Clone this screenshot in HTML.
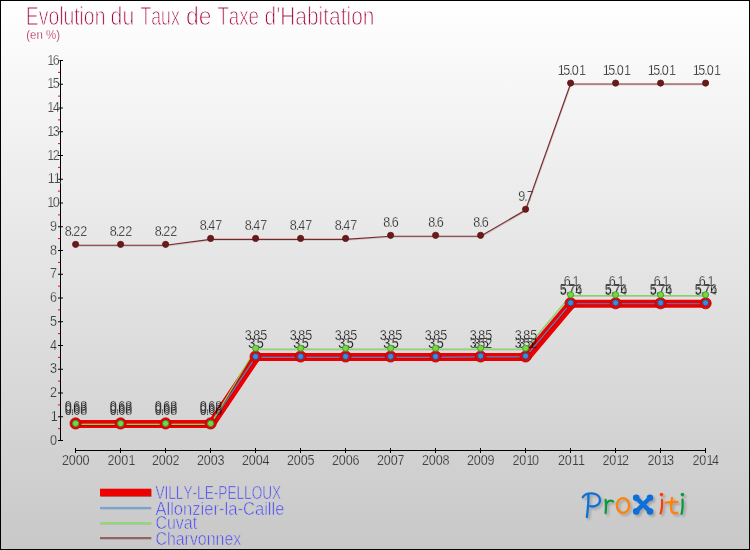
<!DOCTYPE html>
<html lang="fr">
<head>
<meta charset="utf-8">
<title>Evolution du Taux de Taxe d'Habitation</title>
<style>
html,body{margin:0;padding:0;background:#fff;}
body{width:750px;height:550px;overflow:hidden;font-family:"Liberation Sans",sans-serif;}
svg{display:block;}
text{font-family:"Liberation Sans",sans-serif;font-kerning:none;}
.ax{fill:#050505;}
.vl{fill:#050505;mix-blend-mode:darken;}
.lg{fill:#4040fa;}
.tt{fill:#a20038;}
</style>
</head>
<body>
<svg width="750" height="550" viewBox="0 0 750 550">
<defs>
<linearGradient id="bg" x1="0" y1="0" x2="0" y2="1">
<stop offset="0" stop-color="#ffffff"/>
<stop offset="1" stop-color="#c8c8c8"/>
</linearGradient>
<filter id="sh" x="-10%" y="-20%" width="120%" height="150%">
<feGaussianBlur stdDeviation="0.85"/>
</filter>
</defs>
<rect x="0" y="0" width="750" height="550" fill="url(#bg)"/>
<rect x="0.5" y="0.5" width="749" height="549" fill="none" stroke="#000" stroke-width="1"/>
<text class="tt" transform="translate(25.8,24.5) scale(1,1.185)" font-size="21" textLength="79.6" lengthAdjust="spacingAndGlyphs" stroke="#fefefe" stroke-width="0.80">Evolution</text>
<text class="tt" transform="translate(110.6,24.5) scale(1,1.185)" font-size="21" textLength="23.6" lengthAdjust="spacingAndGlyphs" stroke="#fefefe" stroke-width="0.80">du</text>
<text class="tt" transform="translate(140.4,24.5) scale(1,1.185)" font-size="21" textLength="39.4" lengthAdjust="spacingAndGlyphs" stroke="#fefefe" stroke-width="0.80">Taux</text>
<text class="tt" transform="translate(185.9,24.5) scale(1,1.185)" font-size="21" textLength="25.5" lengthAdjust="spacingAndGlyphs" stroke="#fefefe" stroke-width="0.80">de</text>
<text class="tt" transform="translate(217.4,24.5) scale(1,1.185)" font-size="21" textLength="41.6" lengthAdjust="spacingAndGlyphs" stroke="#fefefe" stroke-width="0.80">Taxe</text>
<text class="tt" transform="translate(264.6,24.5) scale(1,1.185)" font-size="21" textLength="109.8" lengthAdjust="spacingAndGlyphs" stroke="#fefefe" stroke-width="0.80">d'Habitation</text>
<text class="tt" transform="translate(26.2,39.2) scale(1,1.100)" font-size="12" textLength="33.8" lengthAdjust="spacingAndGlyphs" stroke="#fbfbfb" stroke-width="0.30">(en %)</text>
<g fill="#000">
<rect x="60" y="60" width="1" height="381"/>
<rect x="58" y="440.00" width="5" height="1"/>
<rect x="58" y="416.25" width="5" height="1"/>
<rect x="58" y="392.50" width="5" height="1"/>
<rect x="58" y="368.75" width="5" height="1"/>
<rect x="58" y="345.00" width="5" height="1"/>
<rect x="58" y="321.25" width="5" height="1"/>
<rect x="58" y="297.50" width="5" height="1"/>
<rect x="58" y="273.75" width="5" height="1"/>
<rect x="58" y="250.00" width="5" height="1"/>
<rect x="58" y="226.25" width="5" height="1"/>
<rect x="58" y="202.50" width="5" height="1"/>
<rect x="58" y="178.75" width="5" height="1"/>
<rect x="58" y="155.00" width="5" height="1"/>
<rect x="58" y="131.25" width="5" height="1"/>
<rect x="58" y="107.50" width="5" height="1"/>
<rect x="58" y="83.75" width="5" height="1"/>
<rect x="58" y="60.00" width="5" height="1"/>
<rect x="75" y="450" width="631" height="1"/>
<rect x="75" y="448" width="1" height="5"/>
<rect x="120" y="448" width="1" height="5"/>
<rect x="165" y="448" width="1" height="5"/>
<rect x="210" y="448" width="1" height="5"/>
<rect x="255" y="448" width="1" height="5"/>
<rect x="300" y="448" width="1" height="5"/>
<rect x="345" y="448" width="1" height="5"/>
<rect x="390" y="448" width="1" height="5"/>
<rect x="435" y="448" width="1" height="5"/>
<rect x="480" y="448" width="1" height="5"/>
<rect x="525" y="448" width="1" height="5"/>
<rect x="570" y="448" width="1" height="5"/>
<rect x="615" y="448" width="1" height="5"/>
<rect x="660" y="448" width="1" height="5"/>
<rect x="705" y="448" width="1" height="5"/>
</g>
<g fill="#ff0000">
<rect x="58" y="428.12" width="2" height="1"/>
<rect x="58" y="404.38" width="2" height="1"/>
<rect x="58" y="380.62" width="2" height="1"/>
<rect x="58" y="356.88" width="2" height="1"/>
<rect x="58" y="333.12" width="2" height="1"/>
<rect x="58" y="309.38" width="2" height="1"/>
<rect x="58" y="285.62" width="2" height="1"/>
<rect x="58" y="261.88" width="2" height="1"/>
<rect x="58" y="238.12" width="2" height="1"/>
<rect x="58" y="214.38" width="2" height="1"/>
<rect x="58" y="190.62" width="2" height="1"/>
<rect x="58" y="166.88" width="2" height="1"/>
<rect x="58" y="143.12" width="2" height="1"/>
<rect x="58" y="119.38" width="2" height="1"/>
<rect x="58" y="95.62" width="2" height="1"/>
<rect x="58" y="71.88" width="2" height="1"/>
</g>
<text class="ax" transform="translate(49.98,444.6) scale(1,1.110)" font-size="12.6" x="-0.08" stroke="#d3d3d3" stroke-width="0.36">0</text>
<text class="ax" transform="translate(50.45,420.9) scale(1,1.110)" font-size="12.6" x="0.30" stroke="#d5d5d5" stroke-width="0.36">1</text>
<text class="ax" transform="translate(49.98,397.1) scale(1,1.110)" font-size="12.6" x="-0.08" stroke="#d8d8d8" stroke-width="0.36">2</text>
<text class="ax" transform="translate(49.98,373.4) scale(1,1.110)" font-size="12.6" x="-0.08" stroke="#dadada" stroke-width="0.36">3</text>
<text class="ax" transform="translate(49.98,349.6) scale(1,1.110)" font-size="12.6" x="-0.08" stroke="#dcdcdc" stroke-width="0.36">4</text>
<text class="ax" transform="translate(49.98,325.9) scale(1,1.110)" font-size="12.6" x="-0.08" stroke="#dfdfdf" stroke-width="0.36">5</text>
<text class="ax" transform="translate(49.98,302.1) scale(1,1.110)" font-size="12.6" x="-0.08" stroke="#e1e1e1" stroke-width="0.36">6</text>
<text class="ax" transform="translate(49.98,278.4) scale(1,1.110)" font-size="12.6" x="-0.08" stroke="#e4e4e4" stroke-width="0.36">7</text>
<text class="ax" transform="translate(49.98,254.6) scale(1,1.110)" font-size="12.6" x="-0.08" stroke="#e6e6e6" stroke-width="0.36">8</text>
<text class="ax" transform="translate(49.98,230.8) scale(1,1.110)" font-size="12.6" x="-0.08" stroke="#e8e8e8" stroke-width="0.36">9</text>
<text class="ax" transform="translate(47.02,207.1) scale(1,1.110)" font-size="12.6" x="0.30 5.82" stroke="#ebebeb" stroke-width="0.36">10</text>
<text class="ax" transform="translate(47.50,183.3) scale(1,1.110)" font-size="12.6" x="0.30 6.20" stroke="#ededed" stroke-width="0.36">11</text>
<text class="ax" transform="translate(47.02,159.6) scale(1,1.110)" font-size="12.6" x="0.30 5.82" stroke="#efefef" stroke-width="0.36">12</text>
<text class="ax" transform="translate(47.02,135.8) scale(1,1.110)" font-size="12.6" x="0.30 5.82" stroke="#f2f2f2" stroke-width="0.36">13</text>
<text class="ax" transform="translate(47.02,112.1) scale(1,1.110)" font-size="12.6" x="0.30 5.82" stroke="#f4f4f4" stroke-width="0.36">14</text>
<text class="ax" transform="translate(47.02,88.3) scale(1,1.110)" font-size="12.6" x="0.30 5.82" stroke="#f7f7f7" stroke-width="0.36">15</text>
<text class="ax" transform="translate(47.02,64.6) scale(1,1.110)" font-size="12.6" x="0.30 5.82" stroke="#f9f9f9" stroke-width="0.36">16</text>
<text class="ax" transform="translate(62.10,464.6) scale(1,1.110)" font-size="12.6" x="-0.08 6.77 13.62 20.47" stroke="#d1d1d1" stroke-width="0.36">2000</text>
<text class="ax" transform="translate(107.58,464.6) scale(1,1.110)" font-size="12.6" x="-0.08 6.77 13.62 20.85" stroke="#d1d1d1" stroke-width="0.36">2001</text>
<text class="ax" transform="translate(152.10,464.6) scale(1,1.110)" font-size="12.6" x="-0.08 6.77 13.62 20.47" stroke="#d1d1d1" stroke-width="0.36">2002</text>
<text class="ax" transform="translate(197.10,464.6) scale(1,1.110)" font-size="12.6" x="-0.08 6.77 13.62 20.47" stroke="#d1d1d1" stroke-width="0.36">2003</text>
<text class="ax" transform="translate(242.10,464.6) scale(1,1.110)" font-size="12.6" x="-0.08 6.77 13.62 20.47" stroke="#d1d1d1" stroke-width="0.36">2004</text>
<text class="ax" transform="translate(287.10,464.6) scale(1,1.110)" font-size="12.6" x="-0.08 6.77 13.62 20.47" stroke="#d1d1d1" stroke-width="0.36">2005</text>
<text class="ax" transform="translate(332.10,464.6) scale(1,1.110)" font-size="12.6" x="-0.08 6.77 13.62 20.47" stroke="#d1d1d1" stroke-width="0.36">2006</text>
<text class="ax" transform="translate(377.10,464.6) scale(1,1.110)" font-size="12.6" x="-0.08 6.77 13.62 20.47" stroke="#d1d1d1" stroke-width="0.36">2007</text>
<text class="ax" transform="translate(422.10,464.6) scale(1,1.110)" font-size="12.6" x="-0.08 6.77 13.62 20.47" stroke="#d1d1d1" stroke-width="0.36">2008</text>
<text class="ax" transform="translate(467.10,464.6) scale(1,1.110)" font-size="12.6" x="-0.08 6.77 13.62 20.47" stroke="#d1d1d1" stroke-width="0.36">2009</text>
<text class="ax" transform="translate(512.57,464.6) scale(1,1.110)" font-size="12.6" x="-0.08 6.77 14.00 19.52" stroke="#d1d1d1" stroke-width="0.36">2010</text>
<text class="ax" transform="translate(558.05,464.6) scale(1,1.110)" font-size="12.6" x="-0.08 6.77 14.00 19.90" stroke="#d1d1d1" stroke-width="0.36">2011</text>
<text class="ax" transform="translate(602.57,464.6) scale(1,1.110)" font-size="12.6" x="-0.08 6.77 14.00 19.52" stroke="#d1d1d1" stroke-width="0.36">2012</text>
<text class="ax" transform="translate(647.57,464.6) scale(1,1.110)" font-size="12.6" x="-0.08 6.77 14.00 19.52" stroke="#d1d1d1" stroke-width="0.36">2013</text>
<text class="ax" transform="translate(692.57,464.6) scale(1,1.110)" font-size="12.6" x="-0.08 6.77 14.00 19.52" stroke="#d1d1d1" stroke-width="0.36">2014</text>
<g transform="translate(1.0,0)" fill="none" stroke="#ee0000">
<polyline points="75.5,424.00 120.5,424.00 165.5,424.00 210.5,424.00 255.5,357.02 300.5,357.02 345.5,357.02 390.5,357.02 435.5,357.02 480.5,357.02 525.5,357.02 570.5,303.82 615.5,303.82 660.5,303.82 705.5,303.82" stroke-width="8.00" stroke-linejoin="round" stroke-linecap="round"/>
<line x1="210.5" y1="424.00" x2="255.5" y2="357.02" stroke-width="8.4"/>
<line x1="525.5" y1="357.02" x2="570.5" y2="303.82" stroke-width="9.1"/>
</g>
<polyline points="75.5,424.35 120.5,424.35 165.5,424.35 210.5,424.35 255.5,357.38 300.5,357.38 345.5,357.38 390.5,357.38 435.5,357.38 480.5,356.90 525.5,356.90 570.5,303.70 615.5,303.70 660.5,303.70 705.5,303.70" fill="none" stroke="#000" stroke-opacity="0.13" stroke-width="1.15" stroke-linejoin="round" transform="translate(0.6,0.9)"/>
<polyline points="75.5,424.35 120.5,424.35 165.5,424.35 210.5,424.35 255.5,357.38 300.5,357.38 345.5,357.38 390.5,357.38 435.5,357.38 480.5,356.90 525.5,356.90 570.5,303.70 615.5,303.70 660.5,303.70 705.5,303.70" fill="none" stroke="#4f86c6" stroke-width="1.15" stroke-linejoin="round" stroke-linecap="round"/>
<polyline points="75.5,424.35 120.5,424.35 165.5,424.35 210.5,424.35 255.5,349.06 300.5,349.06 345.5,349.06 390.5,349.06 435.5,349.06 480.5,349.06 525.5,349.06 570.5,295.62 615.5,295.62 660.5,295.62 705.5,295.62" fill="none" stroke="#000" stroke-opacity="0.13" stroke-width="1.15" stroke-linejoin="round" transform="translate(0.6,0.9)"/>
<polyline points="75.5,424.35 120.5,424.35 165.5,424.35 210.5,424.35 255.5,349.06 300.5,349.06 345.5,349.06 390.5,349.06 435.5,349.06 480.5,349.06 525.5,349.06 570.5,295.62 615.5,295.62 660.5,295.62 705.5,295.62" fill="none" stroke="#7fd858" stroke-width="1.15" stroke-linejoin="round" stroke-linecap="round"/>
<polyline points="75.5,245.27 120.5,245.27 165.5,245.27 210.5,239.34 255.5,239.34 300.5,239.34 345.5,239.34 390.5,236.25 435.5,236.25 480.5,236.25 525.5,210.13 570.5,84.01 615.5,84.01 660.5,84.01 705.5,84.01" fill="none" stroke="#000" stroke-opacity="0.13" stroke-width="1.20" stroke-linejoin="round" transform="translate(0.6,0.9)"/>
<polyline points="75.5,245.27 120.5,245.27 165.5,245.27 210.5,239.34 255.5,239.34 300.5,239.34 345.5,239.34 390.5,236.25 435.5,236.25 480.5,236.25 525.5,210.13 570.5,84.01 615.5,84.01 660.5,84.01 705.5,84.01" fill="none" stroke="#7c2828" stroke-width="1.20" stroke-linejoin="round" stroke-linecap="round"/>
<g fill="#ee0000" stroke="#aa0c0c" stroke-width="0.80">
<circle cx="75.6" cy="423.45" r="5.60"/>
<circle cx="120.6" cy="423.45" r="5.60"/>
<circle cx="165.6" cy="423.45" r="5.60"/>
<circle cx="210.6" cy="423.45" r="5.60"/>
<circle cx="255.6" cy="356.48" r="5.60"/>
<circle cx="300.6" cy="356.48" r="5.60"/>
<circle cx="345.6" cy="356.48" r="5.60"/>
<circle cx="390.6" cy="356.48" r="5.60"/>
<circle cx="435.6" cy="356.48" r="5.60"/>
<circle cx="480.6" cy="356.48" r="5.60"/>
<circle cx="525.6" cy="356.48" r="5.60"/>
<circle cx="570.6" cy="303.27" r="5.60"/>
<circle cx="615.6" cy="303.27" r="5.60"/>
<circle cx="660.6" cy="303.27" r="5.60"/>
<circle cx="705.6" cy="303.27" r="5.60"/>
</g>
<text class="vl" transform="translate(64.88,415.0) scale(1,1.110)" font-size="12.6" x="-0.08 5.95 8.47 15.32" stroke="#d6d6d6" stroke-width="0.30">0.68</text>
<text class="vl" transform="translate(109.88,415.0) scale(1,1.110)" font-size="12.6" x="-0.08 5.95 8.47 15.32" stroke="#d6d6d6" stroke-width="0.30">0.68</text>
<text class="vl" transform="translate(154.88,415.0) scale(1,1.110)" font-size="12.6" x="-0.08 5.95 8.47 15.32" stroke="#d6d6d6" stroke-width="0.30">0.68</text>
<text class="vl" transform="translate(199.88,415.0) scale(1,1.110)" font-size="12.6" x="-0.08 5.95 8.47 15.32" stroke="#d6d6d6" stroke-width="0.30">0.68</text>
<text class="vl" transform="translate(248.30,348.0) scale(1,1.110)" font-size="12.6" x="-0.08 5.95 8.47" stroke="#dddddd" stroke-width="0.30">3.5</text>
<text class="vl" transform="translate(293.30,348.0) scale(1,1.110)" font-size="12.6" x="-0.08 5.95 8.47" stroke="#dddddd" stroke-width="0.30">3.5</text>
<text class="vl" transform="translate(338.30,348.0) scale(1,1.110)" font-size="12.6" x="-0.08 5.95 8.47" stroke="#dddddd" stroke-width="0.30">3.5</text>
<text class="vl" transform="translate(383.30,348.0) scale(1,1.110)" font-size="12.6" x="-0.08 5.95 8.47" stroke="#dddddd" stroke-width="0.30">3.5</text>
<text class="vl" transform="translate(428.30,348.0) scale(1,1.110)" font-size="12.6" x="-0.08 5.95 8.47" stroke="#dddddd" stroke-width="0.30">3.5</text>
<text class="vl" transform="translate(473.30,348.0) scale(1,1.110)" font-size="12.6" x="-0.08 5.95 8.47" stroke="#dddddd" stroke-width="0.30">3.5</text>
<text class="vl" transform="translate(518.30,348.0) scale(1,1.110)" font-size="12.6" x="-0.08 5.95 8.47" stroke="#dddddd" stroke-width="0.30">3.5</text>
<text class="vl" transform="translate(559.88,294.8) scale(1,1.110)" font-size="12.6" x="-0.08 5.95 8.47 15.32" stroke="#e2e2e2" stroke-width="0.30">5.74</text>
<text class="vl" transform="translate(604.88,294.8) scale(1,1.110)" font-size="12.6" x="-0.08 5.95 8.47 15.32" stroke="#e2e2e2" stroke-width="0.30">5.74</text>
<text class="vl" transform="translate(649.88,294.8) scale(1,1.110)" font-size="12.6" x="-0.08 5.95 8.47 15.32" stroke="#e2e2e2" stroke-width="0.30">5.74</text>
<text class="vl" transform="translate(694.88,294.8) scale(1,1.110)" font-size="12.6" x="-0.08 5.95 8.47 15.32" stroke="#e2e2e2" stroke-width="0.30">5.74</text>
<g fill="#3c8cd7" stroke="#1f4f8f" stroke-width="0.90">
<circle cx="75.6" cy="423.45" r="3.05"/>
<circle cx="120.6" cy="423.45" r="3.05"/>
<circle cx="165.6" cy="423.45" r="3.05"/>
<circle cx="210.6" cy="423.45" r="3.05"/>
<circle cx="255.6" cy="356.48" r="3.05"/>
<circle cx="300.6" cy="356.48" r="3.05"/>
<circle cx="345.6" cy="356.48" r="3.05"/>
<circle cx="390.6" cy="356.48" r="3.05"/>
<circle cx="435.6" cy="356.48" r="3.05"/>
<circle cx="480.6" cy="356.00" r="3.05"/>
<circle cx="525.6" cy="356.00" r="3.05"/>
<circle cx="570.6" cy="302.80" r="3.05"/>
<circle cx="615.6" cy="302.80" r="3.05"/>
<circle cx="660.6" cy="302.80" r="3.05"/>
<circle cx="705.6" cy="302.80" r="3.05"/>
</g>
<text class="vl" transform="translate(64.88,413.0) scale(1,1.110)" font-size="12.6" x="-0.08 5.95 8.47 15.32" stroke="#d6d6d6" stroke-width="0.30">0.68</text>
<text class="vl" transform="translate(109.88,413.0) scale(1,1.110)" font-size="12.6" x="-0.08 5.95 8.47 15.32" stroke="#d6d6d6" stroke-width="0.30">0.68</text>
<text class="vl" transform="translate(154.88,413.0) scale(1,1.110)" font-size="12.6" x="-0.08 5.95 8.47 15.32" stroke="#d6d6d6" stroke-width="0.30">0.68</text>
<text class="vl" transform="translate(199.88,413.0) scale(1,1.110)" font-size="12.6" x="-0.08 5.95 8.47 15.32" stroke="#d6d6d6" stroke-width="0.30">0.68</text>
<text class="vl" transform="translate(248.30,348.0) scale(1,1.110)" font-size="12.6" x="-0.08 5.95 8.47" stroke="#dddddd" stroke-width="0.30">3.5</text>
<text class="vl" transform="translate(293.30,348.0) scale(1,1.110)" font-size="12.6" x="-0.08 5.95 8.47" stroke="#dddddd" stroke-width="0.30">3.5</text>
<text class="vl" transform="translate(338.30,348.0) scale(1,1.110)" font-size="12.6" x="-0.08 5.95 8.47" stroke="#dddddd" stroke-width="0.30">3.5</text>
<text class="vl" transform="translate(383.30,348.0) scale(1,1.110)" font-size="12.6" x="-0.08 5.95 8.47" stroke="#dddddd" stroke-width="0.30">3.5</text>
<text class="vl" transform="translate(428.30,348.0) scale(1,1.110)" font-size="12.6" x="-0.08 5.95 8.47" stroke="#dddddd" stroke-width="0.30">3.5</text>
<text class="vl" transform="translate(469.88,347.5) scale(1,1.110)" font-size="12.6" x="-0.08 5.95 8.47 15.32" stroke="#dddddd" stroke-width="0.30">3.52</text>
<text class="vl" transform="translate(514.88,347.5) scale(1,1.110)" font-size="12.6" x="-0.08 5.95 8.47 15.32" stroke="#dddddd" stroke-width="0.30">3.52</text>
<text class="vl" transform="translate(559.88,294.3) scale(1,1.110)" font-size="12.6" x="-0.08 5.95 8.47 15.32" stroke="#e2e2e2" stroke-width="0.30">5.76</text>
<text class="vl" transform="translate(604.88,294.3) scale(1,1.110)" font-size="12.6" x="-0.08 5.95 8.47 15.32" stroke="#e2e2e2" stroke-width="0.30">5.76</text>
<text class="vl" transform="translate(649.88,294.3) scale(1,1.110)" font-size="12.6" x="-0.08 5.95 8.47 15.32" stroke="#e2e2e2" stroke-width="0.30">5.76</text>
<text class="vl" transform="translate(694.88,294.3) scale(1,1.110)" font-size="12.6" x="-0.08 5.95 8.47 15.32" stroke="#e2e2e2" stroke-width="0.30">5.76</text>
<g fill="#73d746" stroke="#3f9a20" stroke-width="0.90">
<circle cx="75.6" cy="423.45" r="3.05"/>
<circle cx="120.6" cy="423.45" r="3.05"/>
<circle cx="165.6" cy="423.45" r="3.05"/>
<circle cx="210.6" cy="423.45" r="3.05"/>
<circle cx="255.6" cy="348.16" r="3.05"/>
<circle cx="300.6" cy="348.16" r="3.05"/>
<circle cx="345.6" cy="348.16" r="3.05"/>
<circle cx="390.6" cy="348.16" r="3.05"/>
<circle cx="435.6" cy="348.16" r="3.05"/>
<circle cx="480.6" cy="348.16" r="3.05"/>
<circle cx="525.6" cy="348.16" r="3.05"/>
<circle cx="570.6" cy="294.73" r="3.05"/>
<circle cx="615.6" cy="294.73" r="3.05"/>
<circle cx="660.6" cy="294.73" r="3.05"/>
<circle cx="705.6" cy="294.73" r="3.05"/>
</g>
<text class="vl" transform="translate(64.88,411.0) scale(1,1.110)" font-size="12.6" x="-0.08 5.95 8.47 15.32" stroke="#d6d6d6" stroke-width="0.30">0.68</text>
<text class="vl" transform="translate(109.88,411.0) scale(1,1.110)" font-size="12.6" x="-0.08 5.95 8.47 15.32" stroke="#d6d6d6" stroke-width="0.30">0.68</text>
<text class="vl" transform="translate(154.88,411.0) scale(1,1.110)" font-size="12.6" x="-0.08 5.95 8.47 15.32" stroke="#d6d6d6" stroke-width="0.30">0.68</text>
<text class="vl" transform="translate(199.88,411.0) scale(1,1.110)" font-size="12.6" x="-0.08 5.95 8.47 15.32" stroke="#d6d6d6" stroke-width="0.30">0.68</text>
<text class="vl" transform="translate(244.88,339.7) scale(1,1.110)" font-size="12.6" x="-0.08 5.95 8.47 15.32" stroke="#dddddd" stroke-width="0.30">3.85</text>
<text class="vl" transform="translate(289.88,339.7) scale(1,1.110)" font-size="12.6" x="-0.08 5.95 8.47 15.32" stroke="#dddddd" stroke-width="0.30">3.85</text>
<text class="vl" transform="translate(334.88,339.7) scale(1,1.110)" font-size="12.6" x="-0.08 5.95 8.47 15.32" stroke="#dddddd" stroke-width="0.30">3.85</text>
<text class="vl" transform="translate(379.88,339.7) scale(1,1.110)" font-size="12.6" x="-0.08 5.95 8.47 15.32" stroke="#dddddd" stroke-width="0.30">3.85</text>
<text class="vl" transform="translate(424.88,339.7) scale(1,1.110)" font-size="12.6" x="-0.08 5.95 8.47 15.32" stroke="#dddddd" stroke-width="0.30">3.85</text>
<text class="vl" transform="translate(469.88,339.7) scale(1,1.110)" font-size="12.6" x="-0.08 5.95 8.47 15.32" stroke="#dddddd" stroke-width="0.30">3.85</text>
<text class="vl" transform="translate(514.88,339.7) scale(1,1.110)" font-size="12.6" x="-0.08 5.95 8.47 15.32" stroke="#dddddd" stroke-width="0.30">3.85</text>
<text class="vl" transform="translate(563.77,286.2) scale(1,1.110)" font-size="12.6" x="-0.08 5.95 8.85" stroke="#e3e3e3" stroke-width="0.30">6.1</text>
<text class="vl" transform="translate(608.77,286.2) scale(1,1.110)" font-size="12.6" x="-0.08 5.95 8.85" stroke="#e3e3e3" stroke-width="0.30">6.1</text>
<text class="vl" transform="translate(653.77,286.2) scale(1,1.110)" font-size="12.6" x="-0.08 5.95 8.85" stroke="#e3e3e3" stroke-width="0.30">6.1</text>
<text class="vl" transform="translate(698.77,286.2) scale(1,1.110)" font-size="12.6" x="-0.08 5.95 8.85" stroke="#e3e3e3" stroke-width="0.30">6.1</text>
<g fill="#6b1a1a" stroke="#5a1414" stroke-width="0.80">
<circle cx="75.6" cy="244.37" r="3.10"/>
<circle cx="120.6" cy="244.37" r="3.10"/>
<circle cx="165.6" cy="244.37" r="3.10"/>
<circle cx="210.6" cy="238.44" r="3.10"/>
<circle cx="255.6" cy="238.44" r="3.10"/>
<circle cx="300.6" cy="238.44" r="3.10"/>
<circle cx="345.6" cy="238.44" r="3.10"/>
<circle cx="390.6" cy="235.35" r="3.10"/>
<circle cx="435.6" cy="235.35" r="3.10"/>
<circle cx="480.6" cy="235.35" r="3.10"/>
<circle cx="525.6" cy="209.23" r="3.10"/>
<circle cx="570.6" cy="83.11" r="3.10"/>
<circle cx="615.6" cy="83.11" r="3.10"/>
<circle cx="660.6" cy="83.11" r="3.10"/>
<circle cx="705.6" cy="83.11" r="3.10"/>
</g>
<text class="vl" transform="translate(64.88,235.9) scale(1,1.110)" font-size="12.6" x="-0.08 5.95 8.47 15.32" stroke="#e8e8e8" stroke-width="0.30">8.22</text>
<text class="vl" transform="translate(109.88,235.9) scale(1,1.110)" font-size="12.6" x="-0.08 5.95 8.47 15.32" stroke="#e8e8e8" stroke-width="0.30">8.22</text>
<text class="vl" transform="translate(154.88,235.9) scale(1,1.110)" font-size="12.6" x="-0.08 5.95 8.47 15.32" stroke="#e8e8e8" stroke-width="0.30">8.22</text>
<text class="vl" transform="translate(199.88,229.9) scale(1,1.110)" font-size="12.6" x="-0.08 5.95 8.47 15.32" stroke="#e8e8e8" stroke-width="0.30">8.47</text>
<text class="vl" transform="translate(244.88,229.9) scale(1,1.110)" font-size="12.6" x="-0.08 5.95 8.47 15.32" stroke="#e8e8e8" stroke-width="0.30">8.47</text>
<text class="vl" transform="translate(289.88,229.9) scale(1,1.110)" font-size="12.6" x="-0.08 5.95 8.47 15.32" stroke="#e8e8e8" stroke-width="0.30">8.47</text>
<text class="vl" transform="translate(334.88,229.9) scale(1,1.110)" font-size="12.6" x="-0.08 5.95 8.47 15.32" stroke="#e8e8e8" stroke-width="0.30">8.47</text>
<text class="vl" transform="translate(383.30,226.8) scale(1,1.110)" font-size="12.6" x="-0.08 5.95 8.47" stroke="#e9e9e9" stroke-width="0.30">8.6</text>
<text class="vl" transform="translate(428.30,226.8) scale(1,1.110)" font-size="12.6" x="-0.08 5.95 8.47" stroke="#e9e9e9" stroke-width="0.30">8.6</text>
<text class="vl" transform="translate(473.30,226.8) scale(1,1.110)" font-size="12.6" x="-0.08 5.95 8.47" stroke="#e9e9e9" stroke-width="0.30">8.6</text>
<text class="vl" transform="translate(518.30,200.7) scale(1,1.110)" font-size="12.6" x="-0.08 5.95 8.47" stroke="#ebebeb" stroke-width="0.30">9.7</text>
<text class="vl" transform="translate(557.40,74.6) scale(1,1.110)" font-size="12.6" x="0.30 5.82 11.85 14.37 21.60" stroke="#f8f8f8" stroke-width="0.30">15.01</text>
<text class="vl" transform="translate(602.40,74.6) scale(1,1.110)" font-size="12.6" x="0.30 5.82 11.85 14.37 21.60" stroke="#f8f8f8" stroke-width="0.30">15.01</text>
<text class="vl" transform="translate(647.40,74.6) scale(1,1.110)" font-size="12.6" x="0.30 5.82 11.85 14.37 21.60" stroke="#f8f8f8" stroke-width="0.30">15.01</text>
<text class="vl" transform="translate(692.40,74.6) scale(1,1.110)" font-size="12.6" x="0.30 5.82 11.85 14.37 21.60" stroke="#f8f8f8" stroke-width="0.30">15.01</text>
<rect x="100.6" y="489.4" width="51" height="7.6" fill="#000" fill-opacity="0.3"/>
<rect x="100" y="488.7" width="51.2" height="7.6" fill="#ee0000"/>
<text class="lg" transform="translate(155.4,498.5) scale(1,1.190)" font-size="16" textLength="125.8" lengthAdjust="spacingAndGlyphs" stroke="#cecece" stroke-width="0.55">VILLY-LE-PELLOUX</text>
<rect x="100.5" y="507.7" width="51" height="2" fill="#000" fill-opacity="0.12"/>
<rect x="100" y="506.9" width="51.2" height="2.1" fill="#76a6cf"/>
<text class="lg" transform="translate(155.4,515.0) scale(1,1.190)" font-size="16" textLength="129.0" lengthAdjust="spacingAndGlyphs" stroke="#cccccc" stroke-width="0.55">Allonzier-la-Caille</text>
<rect x="100.5" y="522.7" width="51" height="2" fill="#000" fill-opacity="0.12"/>
<rect x="100" y="522.0" width="51.2" height="2.1" fill="#97d678"/>
<text class="lg" transform="translate(155.4,529.4) scale(1,1.190)" font-size="16" textLength="41.8" lengthAdjust="spacingAndGlyphs" stroke="#cbcbcb" stroke-width="0.55">Cuvat</text>
<rect x="100.5" y="537.7" width="51" height="2" fill="#000" fill-opacity="0.12"/>
<rect x="100" y="537.0" width="51.2" height="2.1" fill="#946262"/>
<text class="lg" transform="translate(155.4,545.3) scale(1,1.190)" font-size="16" textLength="85.8" lengthAdjust="spacingAndGlyphs" stroke="#c9c9c9" stroke-width="0.55">Charvonnex</text>
<g fill="none" stroke-width="2.3" stroke-linecap="round" stroke-linejoin="round" opacity="0.2" transform="translate(2.0,2.0)" filter="url(#sh)">
<path d="M582.8 497.2 C584.5 494.6 588.5 493.2 592 493.4 C597 493.7 600.2 496.6 600 500.4 C599.8 504.6 595.5 507.4 590.2 506.2" stroke="#000"/>
<path d="M588.4 494.8 C588.6 502 587.8 510 586.9 517" stroke="#000"/>
<path d="M605.6 500 C606.2 504 606 509 605.6 513" stroke="#000"/>
<path d="M606 504.6 C607.2 501.2 610.4 499.6 613 501.4" stroke="#000"/>
<ellipse cx="623" cy="505.5" rx="6.1" ry="7.3" stroke="#000"/>
<path d="M662 499.8 C662.2 504 662.2 509 660.6 513.4" stroke="#000"/>
<path d="M672 497.8 C671.6 502 670.6 507 671.4 510.6 C672.2 513.2 675 513.6 677.2 512.8" stroke="#000"/>
<path d="M665.8 502.7 C669.5 502 673.8 501.7 677.6 501.8" stroke="#000"/>
<path d="M682.5 499.6 C682.8 504 682.6 509.5 681.6 513.8" stroke="#000"/>

<g fill="#000" stroke="none">
<circle cx="636.2" cy="497.8" r="3.3"/><circle cx="650" cy="497.8" r="3.3"/>
<circle cx="636.2" cy="511.4" r="3.3"/><circle cx="650" cy="511.4" r="3.3"/>
<path d="M636.2 497.8 L650 511.4 M650 497.8 L636.2 511.4" stroke="#000" stroke-width="4.3" fill="none"/>
</g>
<circle cx="661.5" cy="494.6" r="1.8" fill="#000" stroke="none"/>
<circle cx="682.4" cy="494.6" r="1.8" fill="#000" stroke="none"/>
</g>
<g fill="none" stroke-width="2.3" stroke-linecap="round" stroke-linejoin="round">
<path d="M582.8 497.2 C584.5 494.6 588.5 493.2 592 493.4 C597 493.7 600.2 496.6 600 500.4 C599.8 504.6 595.5 507.4 590.2 506.2" stroke="#0d6fd9"/>
<path d="M588.4 494.8 C588.6 502 587.8 510 586.9 517" stroke="#0d6fd9"/>
<path d="M605.6 500 C606.2 504 606 509 605.6 513" stroke="#0c9a3e"/>
<path d="M606 504.6 C607.2 501.2 610.4 499.6 613 501.4" stroke="#0c9a3e"/>
<ellipse cx="623" cy="505.5" rx="6.1" ry="7.3" stroke="#ff8208"/>
<path d="M662 499.8 C662.2 504 662.2 509 660.6 513.4" stroke="#ff3b0a"/>
<path d="M672 497.8 C671.6 502 670.6 507 671.4 510.6 C672.2 513.2 675 513.6 677.2 512.8" stroke="#ff8208"/>
<path d="M665.8 502.7 C669.5 502 673.8 501.7 677.6 501.8" stroke="#ff8208"/>
<path d="M682.5 499.6 C682.8 504 682.6 509.5 681.6 513.8" stroke="#0c9a3e"/>

<g fill="#0d6fd9" stroke="none">
<circle cx="636.2" cy="497.8" r="3.3"/><circle cx="650" cy="497.8" r="3.3"/>
<circle cx="636.2" cy="511.4" r="3.3"/><circle cx="650" cy="511.4" r="3.3"/>
<path d="M636.2 497.8 L650 511.4 M650 497.8 L636.2 511.4" stroke="#0d6fd9" stroke-width="4.3" fill="none"/>
</g>
<circle cx="661.5" cy="494.6" r="1.8" fill="#ff3b0a" stroke="none"/>
<circle cx="682.4" cy="494.6" r="1.8" fill="#0c9a3e" stroke="none"/>
</g>
</svg>
</body>
</html>
